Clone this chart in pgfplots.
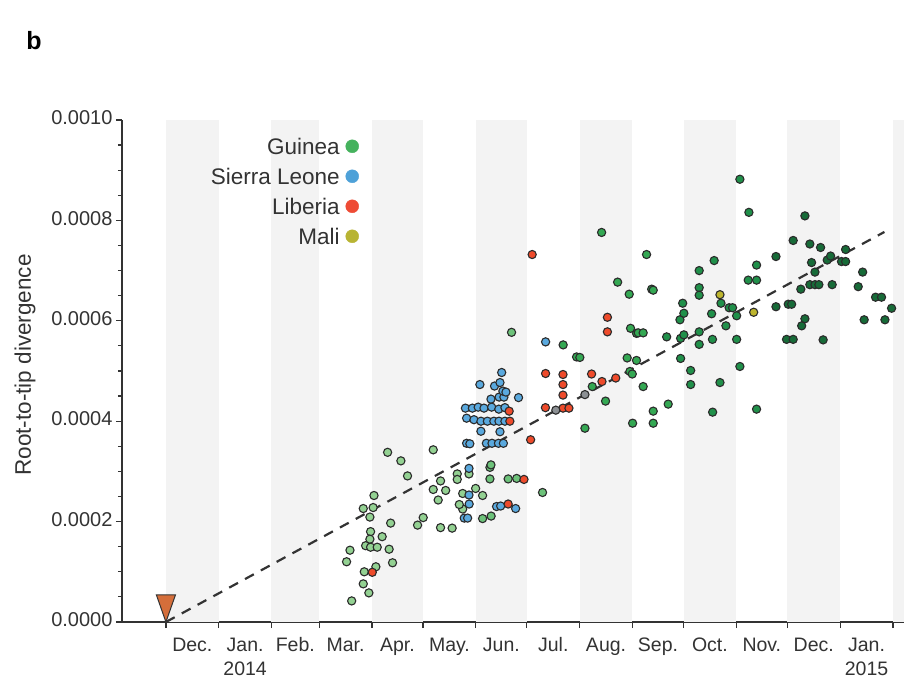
\documentclass[border=0pt]{standalone}
\usepackage{fontspec}
\setmainfont{Liberation Sans}
\usepackage{pgfplots}
\pgfplotsset{compat=1.18}
\definecolor{axgray}{HTML}{333333}
\definecolor{bandgray}{HTML}{F3F3F3}
\definecolor{dotedge}{HTML}{2B2B2B}
\definecolor{gA}{HTML}{93D192}
\definecolor{gB}{HTML}{6DC27A}
\definecolor{gC}{HTML}{34A853}
\definecolor{gD}{HTML}{20904A}
\definecolor{gE}{HTML}{176B38}
\definecolor{sl}{HTML}{5AA9DE}
\definecolor{lb}{HTML}{EE4B2B}
\definecolor{ml}{HTML}{BDB52E}
\definecolor{unk}{HTML}{8C9094}
\definecolor{rootor}{HTML}{D56E3A}
\definecolor{legG}{HTML}{45B25D}
\definecolor{legS}{HTML}{4EA1D8}
\definecolor{legL}{HTML}{EE4B35}
\definecolor{legM}{HTML}{B8B433}
\pgfdeclareplotmark{roottri}{%
  \pgfpathmoveto{\pgfpointorigin}%
  \pgfpathlineto{\pgfpoint{-9.5pt}{27pt}}%
  \pgfpathlineto{\pgfpoint{9.5pt}{27pt}}%
  \pgfpathclose
  \pgfusepathqfillstroke}
\pgfplotsset{dot/.style={only marks, mark=*, mark size=4.1pt, mark options={draw=dotedge, line width=1.1pt, fill=#1}, forget plot}}
\begin{document}
\begin{tikzpicture}
\path[use as bounding box] (-122pt,-57pt) rectangle (782pt,622pt);
\node[font=\fontsize{25}{28}\selectfont\bfseries, text=black] at (-88pt,581pt) {b};
\begin{axis}[
  at={(0pt,0pt)}, anchor=south west, scale only axis,
  width=782pt, height=502pt,
  xmin=-25.8, xmax=433.5, ymin=0, ymax=0.001,
  axis lines=left, axis line style={-, line width=1.3pt, axgray},
  clip=false,
  xtick={0,31,62,90,121,151,182,212,243,274,304,335,365,396,427},
  xticklabels={},
  extra x ticks={15.5,46.5,76,105.5,136,166.5,197,227.5,258.5,289,319.5,350,380.5,411.5},
  extra x tick labels={Dec.,{Jan.\\2014},Feb.,Mar.,Apr.,May.,Jun.,Jul.,Aug.,Sep.,Oct.,Nov.,Dec.,{Jan.\\2015}},
  extra x tick style={major tick length=0pt},
  typeset ticklabels with strut,
  x tick label style={align=center, font=\fontsize{19.5}{24}\selectfont, text=axgray, yshift=-9pt},
  ytick={0,0.0002,0.0004,0.0006,0.0008,0.001},
  minor y tick num=3,
  scaled y ticks=false,
  y tick label style={/pgf/number format/fixed, /pgf/number format/fixed zerofill, /pgf/number format/precision=4, font=\fontsize{20}{24}\selectfont, text=axgray},
  /pgf/number format/assume math mode=true,
  tick align=outside, major tick length=6pt, minor tick length=4pt,
  tick style={axgray, line width=1.2pt},
  ylabel={Root-to-tip divergence},
  ylabel style={at={(axis description cs:0,0.512)}, anchor=center, yshift=97pt, font=\fontsize{22.5}{26}\selectfont, text=axgray},
  legend style={at={(axis description cs:0.303,0.968)}, anchor=north east, draw=none, fill=none, inner sep=0pt,
     font=\fontsize{22.5}{26}\selectfont, text=axgray, row sep=10pt, column sep=4pt,
     nodes={inner sep=2pt, text height=16pt, text depth=0pt}},
  legend plot pos=right, legend cell align=right,
]
% month bands
\addplot[fill=bandgray, draw=none, forget plot] coordinates {(0,0.001) (31,0.001)} \closedcycle;
\addplot[fill=bandgray, draw=none, forget plot] coordinates {(62,0.001) (90,0.001)} \closedcycle;
\addplot[fill=bandgray, draw=none, forget plot] coordinates {(121,0.001) (151,0.001)} \closedcycle;
\addplot[fill=bandgray, draw=none, forget plot] coordinates {(182,0.001) (212,0.001)} \closedcycle;
\addplot[fill=bandgray, draw=none, forget plot] coordinates {(243,0.001) (274,0.001)} \closedcycle;
\addplot[fill=bandgray, draw=none, forget plot] coordinates {(304,0.001) (335,0.001)} \closedcycle;
\addplot[fill=bandgray, draw=none, forget plot] coordinates {(365,0.001) (396,0.001)} \closedcycle;
\addplot[fill=bandgray, draw=none, forget plot] coordinates {(427,0.001) (433.5,0.001)} \closedcycle;
% legend
\addlegendimage{only marks, mark=*, mark size=6.5pt, color=legG, mark options={draw=legG, fill=legG}}
\addlegendentry{Guinea}
\addlegendimage{only marks, mark=*, mark size=6.5pt, color=legS, mark options={draw=legS, fill=legS}}
\addlegendentry{Sierra Leone}
\addlegendimage{only marks, mark=*, mark size=6.5pt, color=legL, mark options={draw=legL, fill=legL}}
\addlegendentry{Liberia}
\addlegendimage{only marks, mark=*, mark size=6.5pt, color=legM, mark options={draw=legM, fill=legM}}
\addlegendentry{Mali}
% regression line
\addplot[axgray, line width=2.2pt, dash pattern=on 10pt off 8pt, forget plot] coordinates {(0,0) (422,0.000777)};
% Guinea, early
\addplot[dot=gA] coordinates {(130.2,3.38e-4) (138.0,3.21e-4) (141.9,2.91e-4) (157.0,3.43e-4) (122.2,2.52e-4) (115.9,2.26e-4) (121.7,2.28e-4) (119.8,2.09e-4) (132.0,1.97e-4) (120.2,1.80e-4) (119.8,1.65e-4) (127.0,1.70e-4) (117.3,1.52e-4) (120.2,1.49e-4) (124.1,1.49e-4) (131.1,1.45e-4) (108.1,1.43e-4) (106.1,1.20e-4) (133.1,1.18e-4) (123.3,1.10e-4) (116.5,1.00e-4) (115.9,0.76e-4) (119.2,0.58e-4) (109.1,0.42e-4) (151.1,2.08e-4) (147.8,1.93e-4) (161.3,1.88e-4) (168.1,1.87e-4) (157.0,2.64e-4) (161.3,2.81e-4) (164.3,2.62e-4) (159.9,2.43e-4) (171.1,2.95e-4) (171.1,2.84e-4) (174.3,2.56e-4) (174.3,2.25e-4) (172.3,2.34e-4) (181.9,2.66e-4) (186.0,2.52e-4) (178.0,2.95e-4)};
\addplot[dot=gB] coordinates {(190.3,3.08e-4) (190.9,3.13e-4) (190.3,2.85e-4) (201.0,2.85e-4) (206.0,2.86e-4) (186.0,2.06e-4) (191.0,2.11e-4) (221.2,2.58e-4) (203.0,5.77e-4)};
\addplot[dot=gC] coordinates {(233.3,5.52e-4) (241.2,5.28e-4) (243.1,5.27e-4) (272.9,5.85e-4) (276.4,5.75e-4) (270.9,5.26e-4) (276.4,5.21e-4) (272.5,4.99e-4) (273.9,4.94e-4) (250.4,4.69e-4) (258.2,4.40e-4) (246.1,3.86e-4) (274.1,3.96e-4) (255.9,7.76e-4) (282.3,7.32e-4) (265.3,6.77e-4) (272.1,6.53e-4) (285.3,6.63e-4) (286.2,6.61e-4) (277.4,5.76e-4) (280.3,5.76e-4) (280.3,4.69e-4) (286.2,4.20e-4) (286.2,3.96e-4) (295.0,4.34e-4)};
\addplot[dot=gD] coordinates {(294.1,5.68e-4) (301.9,6.02e-4) (302.3,5.65e-4) (304.2,5.72e-4) (303.5,6.35e-4) (304.2,6.15e-4) (302.3,5.25e-4) (313.2,7.00e-4) (313.2,6.66e-4) (313.2,6.51e-4) (322.0,7.20e-4) (326.0,6.35e-4) (330.8,6.26e-4) (332.8,6.26e-4) (335.2,6.10e-4) (320.5,6.14e-4) (313.2,5.78e-4) (328.9,5.90e-4) (321.0,5.63e-4) (313.2,5.53e-4) (335.2,5.63e-4) (308.2,5.01e-4) (308.2,4.73e-4) (325.4,4.77e-4) (337.1,5.09e-4) (321.1,4.18e-4) (337.1,8.82e-4) (342.4,8.16e-4) (342.0,6.81e-4) (346.9,6.81e-4) (346.9,7.11e-4) (346.9,4.24e-4)};
\addplot[dot=gE] coordinates {(358.3,7.28e-4) (358.3,6.28e-4) (365.5,6.33e-4) (367.5,6.33e-4) (364.5,5.63e-4) (368.4,5.63e-4) (368.4,7.60e-4) (372.9,6.63e-4) (375.3,8.09e-4) (378.2,7.53e-4) (384.5,7.46e-4) (379.2,7.16e-4) (381.2,6.97e-4) (378.2,6.72e-4) (381.2,6.72e-4) (383.5,6.72e-4) (375.3,6.04e-4) (373.4,5.90e-4) (386.0,5.62e-4) (388.4,7.21e-4) (390.4,7.29e-4) (391.3,6.72e-4) (396.8,7.18e-4) (399.2,7.18e-4) (399.2,7.42e-4) (406.6,6.68e-4) (409.2,6.97e-4) (410.1,6.02e-4) (416.8,6.47e-4) (420.3,6.47e-4) (422.3,6.02e-4) (426.2,6.25e-4)};
% Sierra Leone
\addplot[dot=sl] coordinates {(178.0,3.06e-4) (178.0,2.53e-4) (178.1,2.35e-4) (175.2,2.07e-4) (177.2,2.07e-4) (194.2,2.30e-4) (196.6,2.31e-4) (205.4,2.26e-4) (176.6,3.56e-4) (178.5,3.55e-4) (188.2,3.56e-4) (191.5,3.56e-4) (195.3,3.56e-4) (198.2,3.56e-4) (185.0,3.80e-4) (196.2,3.79e-4) (176.6,4.06e-4) (180.9,4.03e-4) (185.0,4.00e-4) (188.8,4.00e-4) (192.6,4.00e-4) (195.6,4.00e-4) (199.1,4.00e-4) (175.9,4.26e-4) (180.0,4.26e-4) (183.4,4.28e-4) (186.8,4.26e-4) (191.3,4.28e-4) (195.5,4.24e-4) (199.1,4.27e-4) (190.9,4.44e-4) (195.7,4.48e-4) (198.5,4.48e-4) (207.1,4.47e-4) (184.4,4.73e-4) (193.0,4.70e-4) (196.2,4.77e-4) (197.2,4.97e-4) (197.9,4.60e-4) (199.7,4.58e-4) (223.0,5.58e-4)};
% Liberia
\addplot[dot=lb] coordinates {(121.2,0.99e-4) (210.3,2.84e-4) (201.0,2.35e-4) (214.2,3.63e-4) (201.6,4.20e-4) (202.0,4.00e-4) (215.1,7.32e-4) (223.0,4.95e-4) (233.2,4.93e-4) (233.2,4.73e-4) (233.2,4.52e-4) (222.9,4.27e-4) (233.2,4.26e-4) (236.7,4.26e-4) (259.3,6.07e-4) (259.3,5.78e-4) (250.0,4.94e-4) (256.1,4.79e-4) (264.2,4.86e-4)};
% unassigned
\addplot[dot=unk] coordinates {(229.0,4.22e-4) (246.1,4.53e-4)};
% Mali
\addplot[dot=ml] coordinates {(325.4,6.52e-4) (345.2,6.17e-4)};
% root
\addplot[only marks, mark=roottri, mark options={fill=rootor, draw=axgray, line width=1pt}, forget plot] coordinates {(0,0)};
\end{axis}
\end{tikzpicture}
\end{document}
